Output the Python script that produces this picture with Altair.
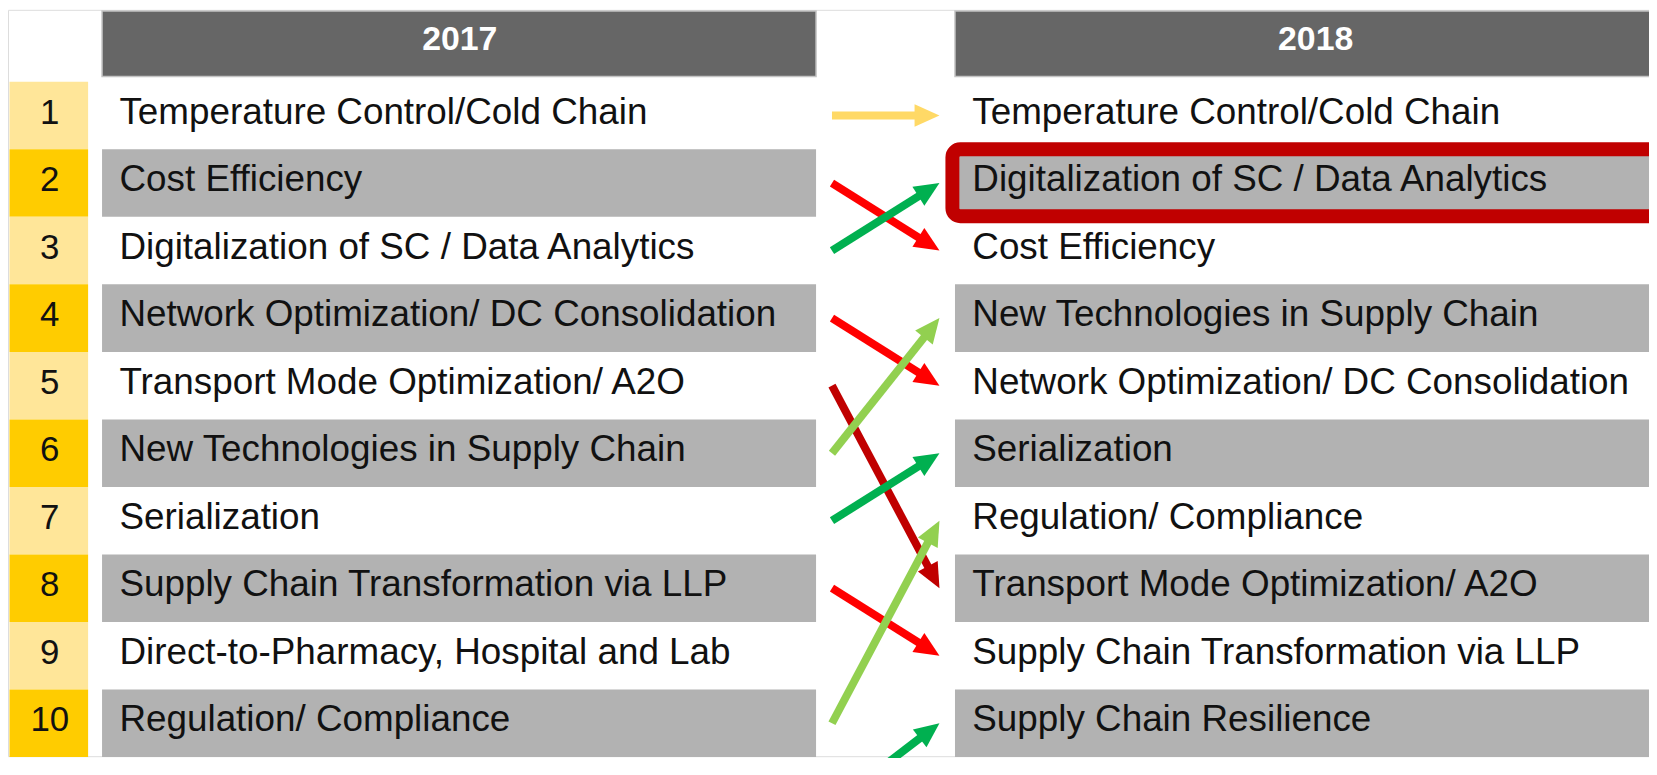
import math
import altair as alt
import pandas as pd

# ---------------- data ----------------
YEARS = ["2017", "2018"]
RANKS = list(range(1, 11))
TOPICS_2017 = [
    "Temperature Control/Cold Chain",
    "Cost Efficiency",
    "Digitalization of SC / Data Analytics",
    "Network Optimization/ DC Consolidation",
    "Transport Mode Optimization/ A2O",
    "New Technologies in Supply Chain",
    "Serialization",
    "Supply Chain Transformation via LLP",
    "Direct-to-Pharmacy, Hospital and Lab",
    "Regulation/ Compliance",
]
TOPICS_2018 = [
    "Temperature Control/Cold Chain",
    "Digitalization of SC / Data Analytics",
    "Cost Efficiency",
    "New Technologies in Supply Chain",
    "Network Optimization/ DC Consolidation",
    "Serialization",
    "Regulation/ Compliance",
    "Transport Mode Optimization/ A2O",
    "Supply Chain Transformation via LLP",
    "Supply Chain Resilience",
]
HIGHLIGHT_2018 = ["Digitalization of SC / Data Analytics"]

MOVES = ["same", "down1", "down_big", "up1", "up_big", "new"]
MOVE_COLORS = ["#FFD966", "#FF0000", "#C00000", "#00B050", "#92D050", "#00B050"]

# ---------------- layout ----------------
PLOT_W, PLOT_H = 1649, 750
X_MIN = 8
R_MIN = -0.566
PX_PER_RANK = 67.85
R_MAX = R_MIN + PLOT_H / PX_PER_RANK

RANK_X = (9.5, 88.5)
COL_X = {"2017": (102.5, 820.0), "2018": (959.6, 1700.0)}
LABEL_X = {"2017": 120.0, "2018": 977.0}
HEADER_TEXT_X = {"2017": 462.0, "2018": 1322.0}
RANK_NUM_X = 50.0
HEADER_R = (-0.55, 0.42)
HEADER_TEXT_R = -0.12
HIGHLIGHT_X = 957.0
ARROW_X0, ARROW_X1, NEW_X0, NEW_R0 = 836.0, 944.0, 889.0, 10.62
HEAD_BACK = 17.0

FONT = "Liberation Sans"

xs = alt.Scale(domain=[X_MIN, X_MIN + PLOT_W], range=[0, PLOT_W], nice=False, zero=False)
ys = alt.Scale(domain=[R_MIN, R_MAX], nice=False, zero=False, reverse=True)

# ---------------- tables ----------------
header_df = pd.DataFrame({
    "year": YEARS,
    "x": [COL_X[y][0] for y in YEARS],
    "x2": [COL_X[y][1] for y in YEARS],
    "tx": [HEADER_TEXT_X[y] for y in YEARS],
    "r": [HEADER_R[0]] * 2,
    "r2": [HEADER_R[1]] * 2,
    "tr": [HEADER_TEXT_R] * 2,
})

rank_df = pd.DataFrame({
    "rank": RANKS,
    "label": [str(r) for r in RANKS],
    "r": [r - 0.5 for r in RANKS],
    "r2": [r + 0.5 for r in RANKS],
    "x": [RANK_X[0]] * 10,
    "x2": [RANK_X[1]] * 10,
    "tx": [RANK_NUM_X] * 10,
    "fill": ["#FFE699" if r % 2 else "#FFCC00" for r in RANKS],
})

rows = []
for year, topics in (("2017", TOPICS_2017), ("2018", TOPICS_2018)):
    for i, t in enumerate(topics):
        rk = i + 1
        rows.append({
            "year": year, "topic": t, "rank": rk,
            "r": rk - 0.5, "r2": rk + 0.5,
            "x": COL_X[year][0], "x2": COL_X[year][1],
            "tx": LABEL_X[year],
            "shaded": rk % 2 == 0,
            "highlight": year == "2018" and t in HIGHLIGHT_2018,
        })
topic_df = pd.DataFrame(rows)
gray_df = topic_df[topic_df["shaded"]]
hl_df = topic_df[topic_df["highlight"]].assign(
    x=HIGHLIGHT_X, r=lambda d: d["rank"] - 0.5, r2=lambda d: d["rank"] + 0.49)

arrows = []
for t in TOPICS_2018:
    r1 = TOPICS_2018.index(t) + 1
    if t in TOPICS_2017:
        r0 = TOPICS_2017.index(t) + 1
        x0 = ARROW_X0
        d = r0 - r1
        if d == 0:
            move = "same"
        elif d > 0:
            move = "up1" if d == 1 else "up_big"
        else:
            move = "down1" if d == -1 else "down_big"
    else:
        r0, x0, move = NEW_R0, NEW_X0, "new"
    dx = ARROW_X1 - x0
    dy = (r1 - r0) * PX_PER_RANK
    L = math.hypot(dx, dy)
    ux, uy = dx / L, dy / L
    arrows.append({
        "topic": t, "move": move,
        "x0": x0, "r0": r0,
        "x1": ARROW_X1 - HEAD_BACK * ux, "r1": r1 - HEAD_BACK * uy / PX_PER_RANK,
        "xt": ARROW_X1, "rt": r1,
        "angle": math.degrees(math.atan2(dy, dx)) % 360,
        "order": {"same": 0, "down1": 1, "down_big": 2, "up1": 4, "up_big": 3, "new": 5}[move],
    })
arrow_df = pd.DataFrame(arrows).sort_values("order")

col = alt.Color("move:N", scale=alt.Scale(domain=MOVES, range=MOVE_COLORS), legend=None)

# ---------------- layers ----------------
def X(f):
    return alt.X(f"{f}:Q", scale=xs, axis=None)

def Y(f):
    return alt.Y(f"{f}:Q", scale=ys, axis=None)

headers = alt.Chart(header_df).mark_rect(
    color="#666666", stroke="#C4C4C4", strokeWidth=1.5
).encode(x=X("x"), x2="x2", y=Y("r"), y2="r2")
header_text = alt.Chart(header_df).mark_text(
    font=FONT, fontSize=34, fontWeight="bold", color="white", align="center", baseline="middle"
).encode(x=X("tx"), y=Y("tr"), text="year:N")

rank_cells = alt.Chart(rank_df).mark_rect().encode(
    x=X("x"), x2="x2", y=Y("r"), y2="r2", fill=alt.Fill("fill:N", scale=None))
rank_text = alt.Chart(rank_df).mark_text(
    font=FONT, fontSize=35, color="#111111", align="center", baseline="middle", dy=-3
).encode(x=X("tx"), y=Y("rank"), text="label:N")

gray = alt.Chart(gray_df).mark_rect(color="#B2B2B2").encode(
    x=X("x"), x2="x2", y=Y("r"), y2="r2")
labels = alt.Chart(topic_df).mark_text(
    font=FONT, fontSize=37, color="#111111", align="left", baseline="middle", dy=-3
).encode(x=X("tx"), y=Y("rank"), text="topic:N")

highlight = alt.Chart(hl_df).mark_rect(
    fillOpacity=0, stroke="#C00000", strokeWidth=14, cornerRadius=8
).encode(x=X("x"), x2="x2", y=Y("r"), y2="r2")

arrow_lines = alt.Chart(arrow_df).mark_rule(strokeWidth=8, strokeCap="butt").encode(
    x=X("x0"), x2="x1", y=Y("r0"), y2="r1", color=col, order="order:Q")
arrow_heads = alt.Chart(arrow_df).mark_point(
    shape="M0,0 L-2,-0.9 L-2,0.9 Z", filled=True, opacity=1, size=625, strokeWidth=0
).encode(x=X("xt"), y=Y("rt"), color=col, angle=alt.Angle("angle:Q", scale=None))

chart = alt.layer(
    headers, header_text, rank_cells, rank_text, gray, labels, highlight, arrow_lines, arrow_heads
).properties(
    width=PLOT_W, height=PLOT_H, padding=0,
    autosize=alt.AutoSizeParams(type="none"),
).configure_view(stroke=None, strokeWidth=0).configure(background="white")

chart.save("out.html", embed_options={"renderer": "svg", "actions": False})
